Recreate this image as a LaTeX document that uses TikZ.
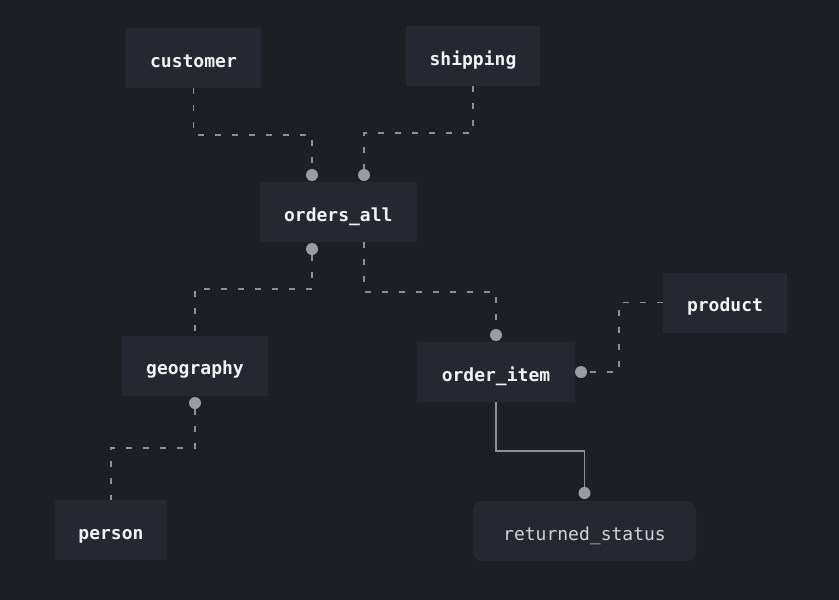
\documentclass[tikz,border=0pt]{standalone}
\usepackage{fontspec}
\setmonofont{DejaVu Sans Mono}
\definecolor{bgc}{HTML}{1E1F24}
\definecolor{boxc}{HTML}{252830}
\definecolor{linec}{HTML}{8E9097}
\definecolor{dotc}{HTML}{9B9CA3}
\definecolor{txtc}{HTML}{F2F2F2}
\definecolor{txtb}{HTML}{D2D3D6}
\tikzset{
  ent/.style={fill=boxc, draw=none, text=txtc, font=\ttfamily\bfseries\fontsize{18}{20}\selectfont, inner sep=0pt, minimum height=60pt, text height=18pt, text depth=0pt},
  entr/.style={fill=boxc, draw=none, text=txtb, font=\ttfamily\fontsize{18}{20}\selectfont, inner sep=0pt, minimum height=60pt, rounded corners=9pt, text height=18pt, text depth=0pt},
  conn/.style={draw=linec, line width=1.8pt, dash pattern=on 6pt off 11pt},
  sconn/.style={draw=linec, line width=1.8pt},
  dotn/.style={circle, fill=dotc, draw=none, minimum size=12pt, inner sep=0pt}
}
\begin{document}
\begin{tikzpicture}[x=1pt,y=-1pt]
\fill[bgc] (0,0) rectangle (839,600);
\useasboundingbox (0,0) rectangle (839,600);

\node[ent, minimum width=135pt] (customer) at (193.5,58) {customer};
\node[ent, minimum width=134pt] (shipping) at (473,56) {shipping};
\node[ent, minimum width=157pt] (orders) at (338.3,212) {orders\_all};
\node[ent, minimum width=146pt] (geography) at (195,365.5) {geography};
\node[ent, minimum width=158pt] (orderitem) at (496,372) {order\_item};
\node[ent, minimum width=124pt] (product) at (725,302.5) {product};
\node[ent, minimum width=112pt] (person) at (111,530) {person};
\node[entr, minimum width=223pt] (returned) at (584.5,531) {returned\_status};

% dots
\node[dotn] (d1) at (312,175) {};
\node[dotn] (d2) at (364,175) {};
\node[dotn] (d3) at (312,249) {};
\node[dotn] (d4) at (496,335) {};
\node[dotn] (d5) at (581,372) {};
\node[dotn] (d6) at (195,403) {};
\node[dotn] (d7) at (584.5,493) {};

% connectors
\draw[conn] (customer.south) -- (customer.south |- 0,135) -| (d1.north);
\draw[conn] (shipping.south) -- (shipping.south |- 0,133) -| (d2.north);
\draw[conn] (d3.south) -- (d3.south |- 0,289) -| (geography.north);
\draw[conn] (orders.south -| d2) -- (364,292) -| (d4.north);
\draw[conn] (product.west) -- (619,302.5) |- (d5.east);
\draw[conn] (d6.south) -- (d6.south |- 0,448) -| (person.north);
\draw[sconn] (orderitem.south) -- (orderitem.south |- 0,451) -| (d7.north);
\end{tikzpicture}
\end{document}
